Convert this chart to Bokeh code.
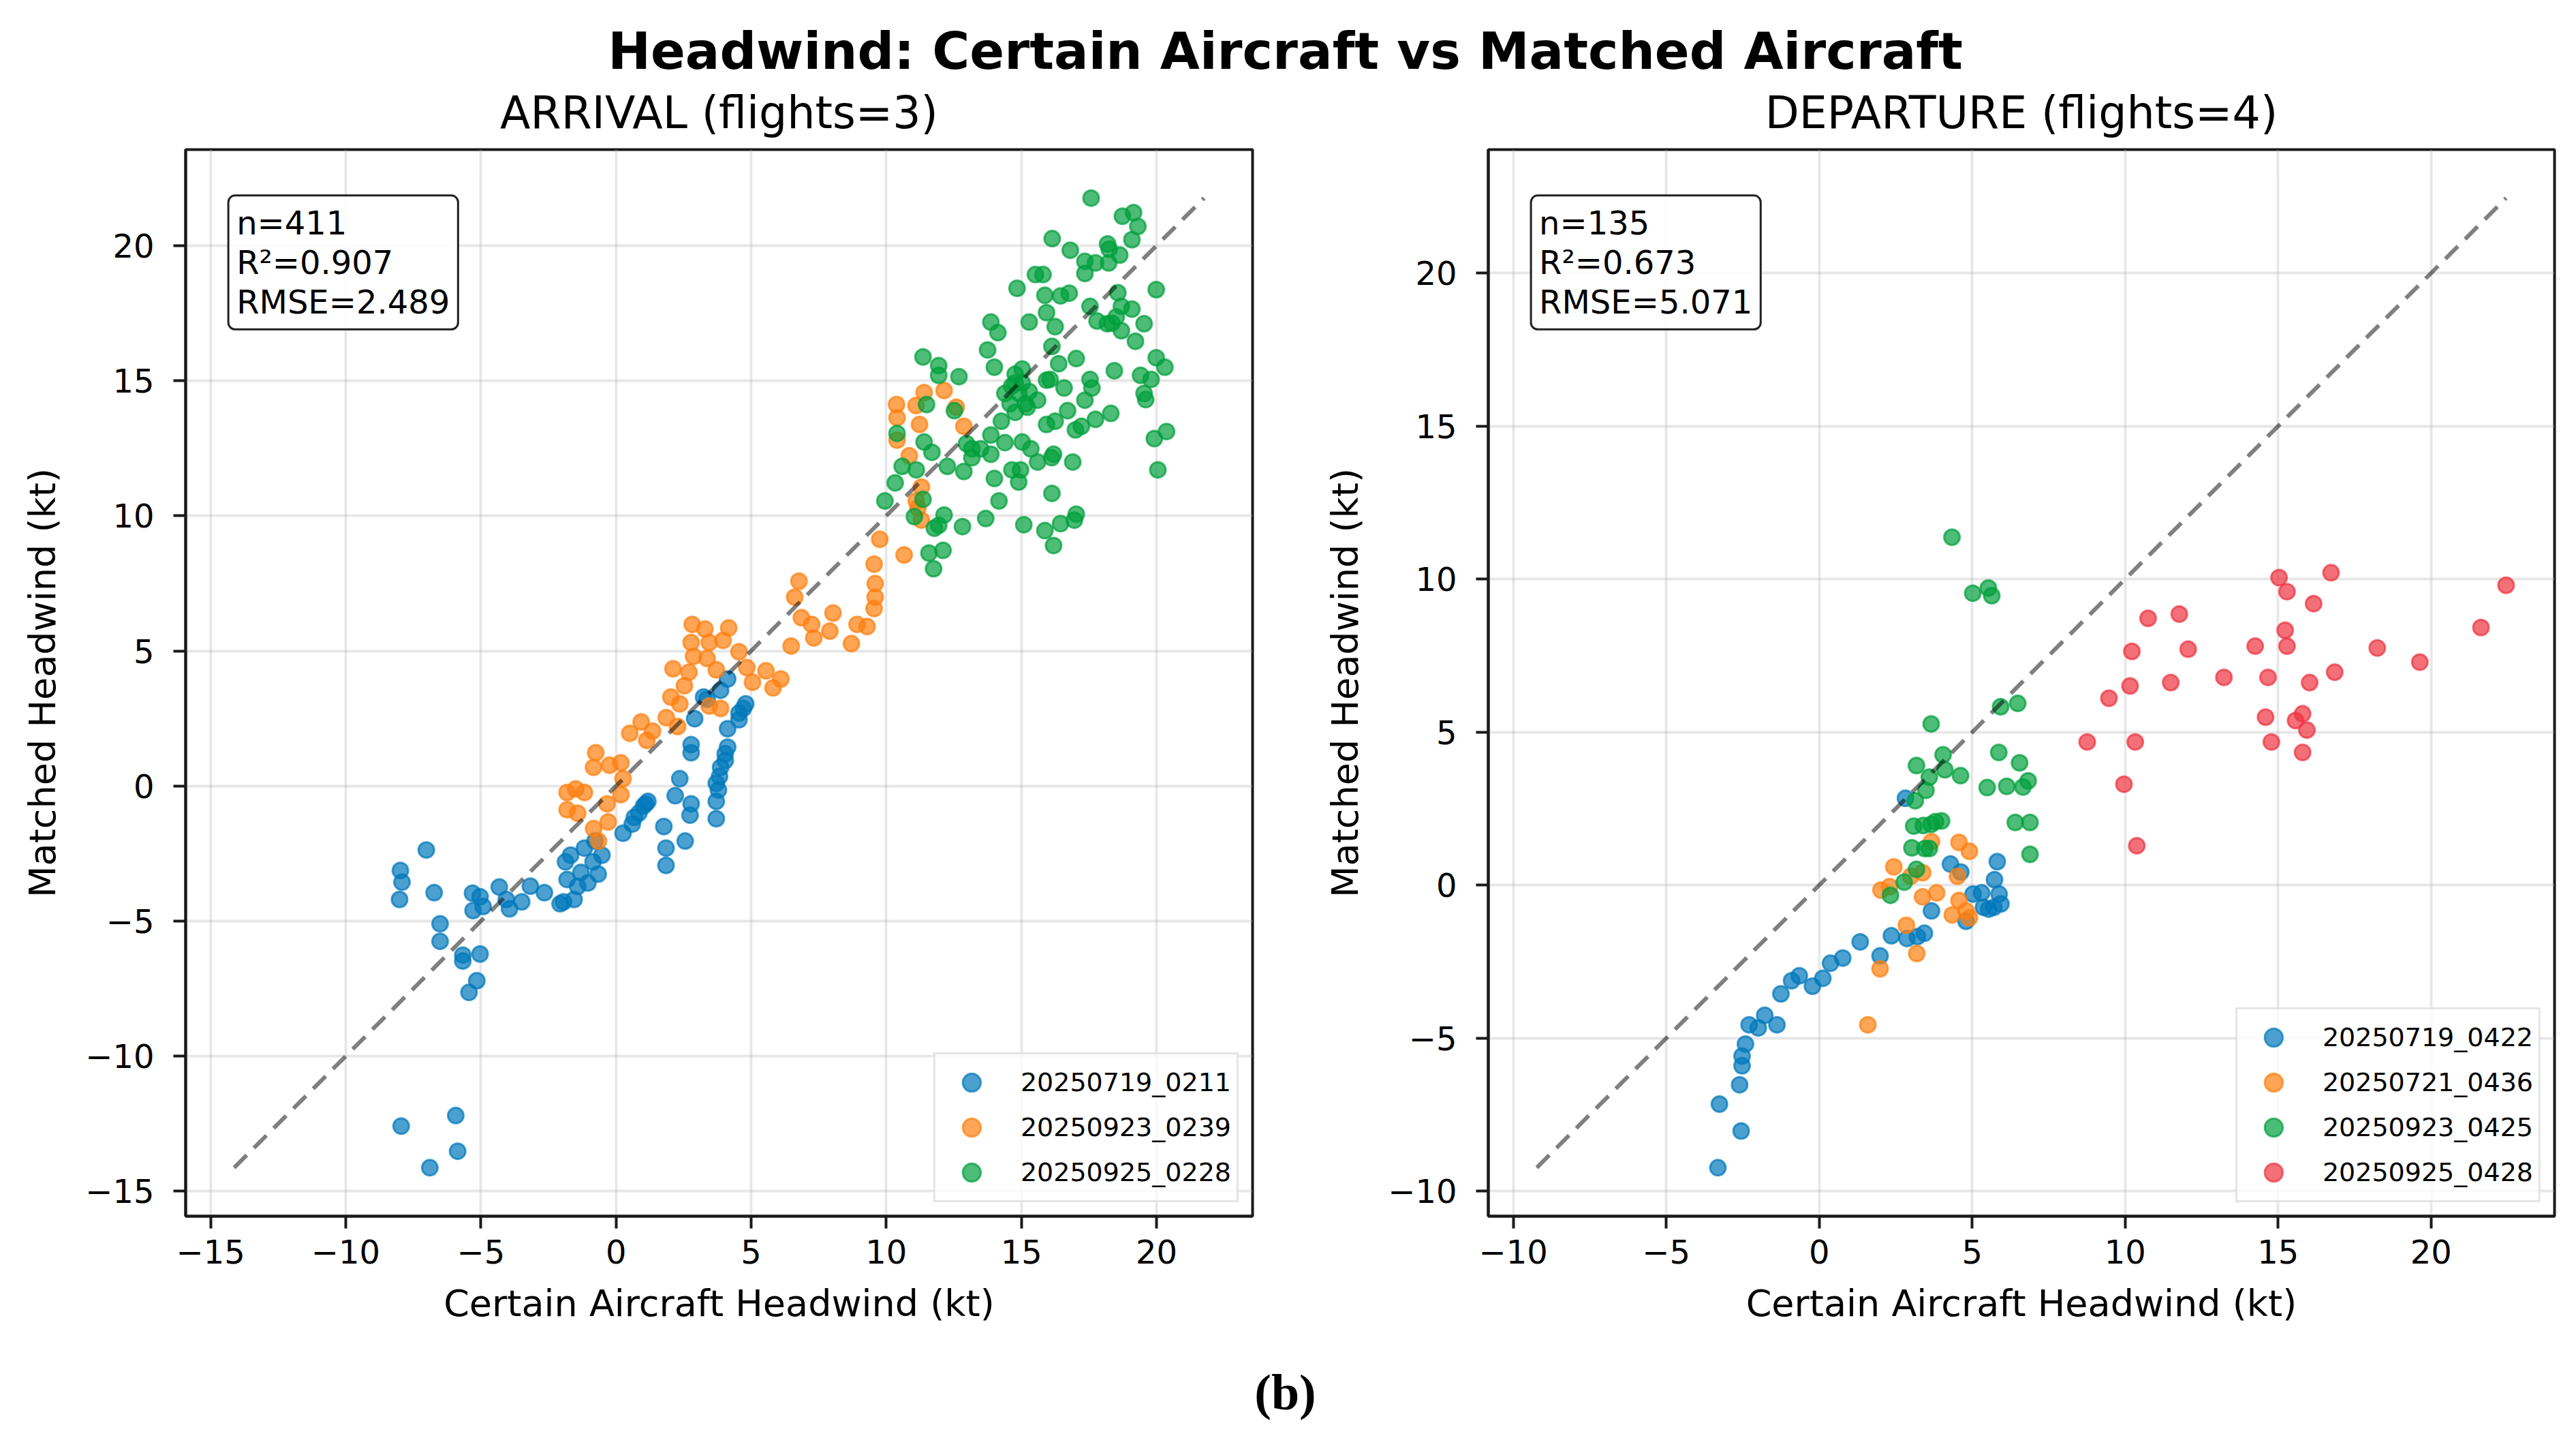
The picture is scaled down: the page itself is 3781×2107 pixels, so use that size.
from bokeh.plotting import figure
from bokeh.models import Range1d, FixedTicker, CustomJSTickFormatter, Label, Div
from bokeh.layouts import column, row
from bokeh.embed import file_html
from bokeh.resources import INLINE

# ---------------- data ----------------
# ARRIVAL panel
arr_labels = ["20250719_0211", "20250923_0239", "20250925_0228"]

arr_blue_x = [-7.95, -6.89, -5.93, -5.86, -7.02, -7.98, -7.92, -8.01, -6.73, -6.51, -6.51, -5.67, -5.67,
              -5.03, -5.15, -5.44, -5.31, -5.29, -5.03, -4.92, -4.32, -4.06, -3.94, -3.49, -3.17, -2.65,
              -1.87, -1.81, -1.94, -1.55, -1.30, -1.17, -0.85, -0.66, -0.52, 1.85, 1.85, 2.56,
              -1.68, -1.04, -1.42, -0.78, -2.07,
              4.13, 3.87, 3.24, 2.91, 4.71, 4.55, 4.13, 2.78, 2.78, 4.13, 4.04, 3.83, 3.79, 3.71, 3.71,
              2.36, 2.19, 2.78, 2.74, 1.77, 1.10, 0.85, 0.60, 0.26,
              4.04, 3.87, 3.71, 4.55, 4.80, 3.37, 1.02, 0.68, 1.18]
arr_blue_y = [-12.59, -14.13, -12.20, -13.52, -2.37, -3.13, -3.56, -4.20, -3.95, -5.10, -5.75, -6.26, -6.48,
              -6.22, -7.21, -7.64, -3.97, -4.61, -4.10, -4.46, -3.74, -4.20, -4.55, -4.29, -3.71, -3.95,
              -2.81, -3.46, -4.29, -4.20, -3.20, -2.30, -2.81, -3.26, -2.56, -2.30, -2.94, -2.04,
              -2.56, -3.59, -3.72, -2.04, -4.36,
              3.96, 3.54, 3.29, 2.49, 2.87, 2.45, 2.12, 1.53, 1.23, 1.44, 0.94, 0.35, -0.15, -0.57, -1.21,
              0.27, -0.36, -0.66, -1.08, -1.50, -0.66, -1.00, -1.41, -1.75,
              1.19, 0.69, 0.10, 2.70, 3.04, 3.21, -0.74, -1.16, -0.57]

arr_orange_x = [-1.49, -1.81, -0.65, -1.81, -1.42,
                10.38, 10.40, 11.40, 12.14, 11.10, 11.23, 12.59, 12.87, 10.40, 10.85, 11.30, 11.17, 11.30,
                11.11, 10.66,
                2.82, 3.29, 4.17, 2.78, 3.45, 3.96, 4.55, 2.87, 3.37, 2.11, 2.70, 3.71, 4.84, 5.05, 5.55,
                6.10, 5.81, 2.53, 2.03, 2.36, 3.45, 3.87, 1.86, 2.28, 0.51, 0.93, 1.35, 1.14, -0.75, -0.83,
                -0.24, 0.18, 0.26, 0.18, -1.17, -0.33, -0.29, -0.83, 6.77, 6.61, 6.86, 7.24, 8.03, 7.91,
                7.32, 6.48, 8.71, 8.92, 9.29, 9.76, 9.55, 9.59, 9.59, 9.55]
arr_orange_y = [-0.11, -0.88, -2.04, -0.24, -1.01,
                14.12, 13.63, 14.56, 14.64, 14.08, 13.38, 14.02, 13.31, 12.80, 12.22, 11.06, 10.29, 9.84,
                10.55, 8.55,
                5.98, 5.81, 5.85, 5.31, 5.31, 5.39, 4.97, 4.80, 4.72, 4.34, 4.21, 4.30, 4.38, 3.84, 4.26,
                3.96, 3.63, 3.71, 3.29, 3.04, 2.96, 2.87, 2.53, 2.20, 1.95, 2.37, 2.03, 1.69, 1.23, 0.69,
                0.77, 0.86, 0.27, -0.32, -0.24, -0.66, -1.33, -1.58, 7.58, 6.99, 6.23, 5.98, 6.40, 5.73,
                5.48, 5.18, 5.27, 5.98, 5.90, 9.13, 8.21, 7.49, 6.99, 6.57]

arr_green_x = [17.58, 18.74, 19.15, 19.31, 19.09, 16.14, 16.81, 17.35, 17.35, 17.74, 18.19, 18.25, 18.23,
               18.64, 15.52, 15.80, 14.84, 15.87, 16.45, 16.77, 19.99, 18.57, 17.54, 17.80, 18.18, 18.70,
               19.09, 18.70, 19.22, 19.54, 18.51, 15.93, 15.29, 16.25, 13.87, 14.13, 13.75, 14.00, 16.13,
               16.38, 17.03, 16.06, 16.58, 17.54, 17.61, 18.44, 19.41, 19.80, 19.99, 20.31, 19.54, 19.60,
               20.05, 19.92, 20.37, 11.36, 11.94, 12.69, 11.94, 14.77, 15.03, 15.29, 15.93, 15.60, 14.77,
               15.22, 16.71, 17.35, 17.74, 18.31, 17.00, 17.22, 14.26, 13.87, 14.39, 15.03, 15.93, 16.25,
               12.97, 13.49, 13.87, 13.17, 14.65, 14.97, 14.90, 15.35, 15.60, 16.19, 16.12, 16.90, 16.13,
               14.00, 14.17, 13.68, 12.82, 15.09, 15.87, 16.19, 16.45, 17.03, 16.96, 12.14, 11.94, 11.78,
               11.04, 11.36, 11.58, 12.10, 11.75, 9.95, 10.33, 10.59, 11.11, 10.40, 11.49, 11.40, 11.69,
               12.26, 12.52, 12.87, 13.17, 14.58, 14.77, 18.35, 14.64, 14.90, 15.15, 14.39, 15.03]
arr_green_y = [21.76, 21.09, 21.22, 20.71, 20.22, 20.26, 19.83, 19.42, 18.97, 19.36, 20.06, 19.87, 19.36,
               19.65, 18.93, 18.93, 18.42, 18.16, 18.14, 18.24, 18.37, 18.26, 17.75, 17.21, 17.11, 17.75,
               17.65, 16.85, 16.46, 17.11, 17.36, 17.52, 17.17, 17.00, 17.17, 16.78, 16.14, 15.50, 16.27,
               15.63, 15.82, 15.05, 14.73, 15.05, 14.73, 15.37, 15.20, 15.05, 15.85, 15.50, 14.53, 14.30,
               11.70, 12.86, 13.12, 15.88, 15.56, 15.15, 15.20, 15.24, 14.92, 14.60, 15.02, 14.28, 13.83,
               14.02, 13.89, 14.28, 13.57, 13.79, 13.18, 13.31, 13.50, 12.99, 12.71, 12.73, 13.38, 13.50,
               12.67, 12.48, 12.28, 12.15, 11.70, 11.70, 11.25, 12.48, 11.99, 12.28, 12.15, 11.99, 10.83,
               11.38, 10.55, 9.90, 9.60, 9.67, 9.45, 8.90, 9.71, 10.06, 9.84, 10.03, 9.65, 9.54,
               9.97, 10.61, 8.62, 8.72, 8.04, 10.55, 11.22, 11.83, 11.70, 13.05, 14.12, 12.73, 12.35,
               11.83, 13.89, 11.64, 12.48, 14.15, 14.92, 17.13, 14.80, 14.53, 14.15, 14.53, 15.43]

# DEPARTURE panel
dep_labels = ["20250719_0422", "20250721_0436", "20250923_0425", "20250925_0428"]

dep_blue_x = [-3.31, -2.55, -3.26, -2.60, -2.52, -2.52, -2.41, -2.29, -1.99, -1.78, -1.38, -1.25, -0.90,
              -0.65, -0.22, 0.12, 0.37, 0.77, 1.34, 1.99, 2.36, 2.87, 3.21, 3.44, 3.67, 4.29, 4.63, 4.80,
              5.03, 5.31, 5.54, 5.71, 5.88, 5.94, 5.73, 5.82, 2.82, 5.37]
dep_blue_y = [-9.23, -8.03, -7.15, -6.52, -5.90, -5.58, -5.19, -4.56, -4.66, -4.25, -4.56, -3.55, -3.12,
              -2.96, -3.30, -3.04, -2.55, -2.38, -1.85, -2.31, -1.65, -1.74, -1.68, -1.57, -0.84, 0.69,
              0.43, -1.18, -0.29, -0.25, -0.78, -0.72, -0.29, -0.61, 0.18, 0.77, 2.84, -0.72]

dep_orange_x = [1.59, 1.99, 3.19, 2.85, 2.44, 2.02, 2.30, 3.38, 3.67, 3.38, 3.84, 4.35, 4.52, 4.57, 4.91,
                4.57, 4.91, 4.80, 2.99]
dep_orange_y = [-4.56, -2.73, -2.23, -1.31, 0.60, -0.16, -0.05, 0.41, 1.42, -0.38, -0.25, -0.97, 0.29,
                1.40, 1.11, -0.50, -1.06, -0.84, 0.29]

dep_green_x = [4.34, 5.02, 5.53, 5.64, 3.66, 5.93, 6.49, 4.05, 3.18, 5.87, 6.55, 4.11, 4.62, 3.60, 5.49,
               6.13, 6.66, 6.83, 6.41, 6.89, 6.89, 3.14, 3.49, 3.09, 3.66, 4.00, 3.03, 3.60, 3.18, 2.78,
               2.33, 3.80, 3.40, 3.45]
dep_green_y = [11.37, 9.54, 9.71, 9.46, 5.27, 5.83, 5.94, 4.26, 3.91, 4.34, 4.00, 3.77, 3.58, 3.53, 3.19,
               3.23, 3.21, 3.41, 2.05, 2.05, 1.01, 2.76, 3.10, 1.93, 1.99, 2.10, 1.22, 1.20, 0.52, 0.10,
               -0.33, 2.08, 1.95, 1.20]

dep_red_x = [8.76, 9.47, 9.96, 10.22, 10.16, 10.33, 10.38, 10.75, 11.49, 11.77, 12.06, 13.23, 14.25, 14.67,
             14.59, 14.78, 15.03, 15.29, 15.23, 15.29, 15.57, 15.80, 15.94, 15.80, 16.03, 16.16, 16.73,
             16.85, 18.24, 19.63, 21.63, 22.45]
dep_red_y = [4.68, 6.11, 3.30, 7.64, 6.51, 4.68, 1.29, 8.72, 6.62, 8.86, 7.71, 6.79, 7.81, 6.79, 5.49,
             4.68, 10.05, 9.59, 8.33, 7.81, 5.38, 5.60, 5.07, 4.34, 6.62, 9.20, 10.21, 6.96, 7.75, 7.29,
             8.42, 9.80]

arr_stats = "n=411\nR\u00b2=0.907\nRMSE=2.489"
dep_stats = "n=135\nR\u00b2=0.673\nRMSE=5.071"

arr_ticks = [-15, -10, -5, 0, 5, 10, 15, 20]
dep_ticks = [-10, -5, 0, 5, 10, 15, 20]

colors = ["#0077BB", "#FF7F0E", "#00A03C", "#EE3340"]

FONT = "DejaVu Sans"


def make_panel(title, groups, labels, ticks, stats, frame_w, left_border, right_border):
    all_vals = [v for xs, ys in groups for v in xs + ys]
    lo, hi = min(all_vals), max(all_vals)
    pad = 0.05 * (hi - lo)
    r0, r1 = lo - pad, hi + pad

    p = figure(frame_width=frame_w, frame_height=1565,
               x_range=Range1d(r0, r1), y_range=Range1d(r0, r1),
               title=title,
               x_axis_label="Certain Aircraft Headwind (kt)",
               y_axis_label="Matched Headwind (kt)",
               output_backend="svg", toolbar_location=None,
               min_border_left=left_border, min_border_right=right_border,
               min_border_top=90, min_border_bottom=207)

    p.background_fill_color = "white"
    p.border_fill_color = "white"
    p.outline_line_color = "#1a1a1a"
    p.outline_line_width = 4
    p.outline_line_alpha = 1

    p.title.align = "center"
    p.title.text_font = FONT
    p.title.text_font_size = "65px"
    p.title.text_font_style = "normal"
    p.title.text_color = "black"
    p.title.standoff = 34

    for ax in (p.xaxis, p.yaxis):
        ax.ticker = FixedTicker(ticks=ticks)
        ax.formatter = CustomJSTickFormatter(
            code="return tick < 0 ? '\u2212' + Math.abs(tick) : String(tick);")
        ax.major_label_text_font = FONT
        ax.major_label_text_font_size = "48px"
        ax.major_label_text_color = "black"
        ax.axis_label_text_font = FONT
        ax.axis_label_text_font_size = "54px"
        ax.axis_label_text_font_style = "normal"
        ax.axis_label_text_color = "black"
        ax.axis_line_color = "#1a1a1a"
        ax.axis_line_width = 4
        ax.major_tick_line_color = "#1a1a1a"
        ax.major_tick_line_width = 4
        ax.major_tick_out = 18
        ax.major_tick_in = 0
        ax.minor_tick_line_color = None
    p.xaxis.major_label_standoff = 16
    p.xaxis.axis_label_standoff = 24
    p.yaxis.major_label_standoff = 28
    p.yaxis.axis_label_standoff = 28

    p.grid.grid_line_color = "#b0b0b0"
    p.grid.grid_line_alpha = 0.3
    p.grid.grid_line_width = 3.8

    for (xs, ys), lab, col in zip(groups, labels, colors):
        p.scatter(xs, ys, size=23, fill_color=col, fill_alpha=0.7,
                  line_color=col, line_alpha=0.7, line_width=3, legend_label=lab)

    # y = x reference line
    p.line([lo, hi], [lo, hi], line_color="black", line_alpha=0.5,
           line_width=6, line_dash="26 15")

    span = r1 - r0
    p.add_layout(Label(x=r0 + 0.04 * span, y=r1 - 0.043 * span, text=stats,
                       anchor="top_left", text_font=FONT, text_font_size="48px",
                       text_line_height=1.04, text_color="black",
                       padding=12, border_radius=10,
                       background_fill_color="white", background_fill_alpha=0.9,
                       border_line_color="#222222", border_line_width=3))

    lg = p.legend[0]
    lg.location = "bottom_right"
    lg.margin = 20
    lg.padding = 8
    lg.spacing = 0
    lg.glyph_height = 66
    lg.glyph_width = 90
    lg.label_standoff = 27
    lg.label_text_font = FONT
    lg.label_text_font_size = "38px"
    lg.label_text_color = "black"
    lg.border_line_color = "#cccccc"
    lg.border_line_width = 3
    lg.background_fill_alpha = 0.8
    return p


p1 = make_panel("ARRIVAL (flights=3)",
                [(arr_blue_x, arr_blue_y), (arr_orange_x, arr_orange_y), (arr_green_x, arr_green_y)],
                arr_labels, arr_ticks, arr_stats, 1566, 272, 82)
p2 = make_panel("DEPARTURE (flights=4)",
                [(dep_blue_x, dep_blue_y), (dep_orange_x, dep_orange_y),
                 (dep_green_x, dep_green_y), (dep_red_x, dep_red_y)],
                dep_labels, dep_ticks, dep_stats, 1565, 264, 24)

title_div = Div(text='<div style="width:3773px;text-align:center;font-family:\'DejaVu Sans\';'
                     'font-weight:bold;font-size:75px;line-height:66px;padding-top:42px;color:black">'
                     'Headwind: Certain Aircraft vs Matched Aircraft</div>',
                width=3773, height=108, margin=(0, 0, 0, 0))
b_div = Div(text='<div style="width:3773px;text-align:center;font-family:\'Liberation Serif\';'
                 'font-weight:bold;font-size:74px;line-height:80px;padding-top:12px;color:black">'
                 '(b)</div>',
            width=3773, height=110, margin=(0, 0, 0, 0))

page = column(title_div, row(p1, p2), b_div)

open("out.html", "w").write(file_html(page, INLINE))
